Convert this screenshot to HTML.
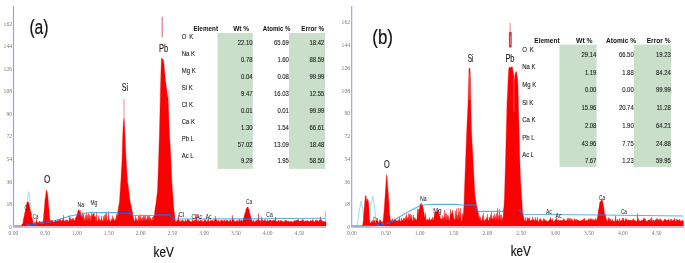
<!DOCTYPE html>
<html><head><meta charset="utf-8"><style>
html,body{margin:0;padding:0;background:#fff;}
svg{display:block;filter:blur(0.5px);}
.tk{font-family:"Liberation Serif",serif;font-size:5.6px;fill:#777;}
.th{font-family:"Liberation Sans",sans-serif;font-weight:bold;font-size:7.9px;fill:#111;}
.td{font-family:"Liberation Sans",sans-serif;font-size:6.8px;fill:#222;stroke:#222;stroke-width:0.1px;}
.tv{font-family:"Liberation Sans",sans-serif;font-size:7.4px;fill:#222;stroke:#222;stroke-width:0.12px;}
.pl{font-family:"Liberation Sans",sans-serif;fill:#111;}
.big{font-family:"Liberation Sans",sans-serif;fill:#1e1e1e;stroke:#1e1e1e;stroke-width:0.15px;}
.pan{font-family:"Liberation Sans",sans-serif;fill:#111;stroke:#111;stroke-width:0.2px;}
</style></head><body>
<svg width="685" height="263" viewBox="0 0 685 263">
<rect width="685" height="263" fill="#fff"/>
<defs>
<clipPath id="ca"><path d="M14.5,226.0 L14.5,226.0 L15.0,226.0 L15.5,226.0 L16.0,226.0 L16.5,226.0 L17.0,226.0 L17.5,226.0 L18.0,226.0 L18.5,226.0 L19.0,226.0 L19.5,226.0 L20.0,226.0 L20.5,226.0 L21.0,226.0 L21.5,226.0 L22.0,224.0 L22.5,223.9 L23.0,223.1 L23.5,218.7 L24.0,217.1 L24.5,214.3 L25.0,211.9 L25.5,210.6 L26.0,207.8 L26.5,204.7 L27.0,202.9 L27.5,201.9 L28.0,201.6 L28.5,202.0 L29.0,203.5 L29.5,206.0 L30.0,208.3 L30.5,211.1 L31.0,212.6 L31.5,215.4 L32.0,217.9 L32.5,218.7 L33.0,221.7 L33.5,223.5 L34.0,223.5 L34.5,223.1 L35.0,222.1 L35.5,223.2 L36.0,221.7 L36.5,218.9 L37.0,221.3 L37.5,222.5 L38.0,222.7 L38.5,222.4 L39.0,222.3 L39.5,220.8 L40.0,222.6 L40.5,222.1 L41.0,221.6 L41.5,222.8 L42.0,221.5 L42.5,221.9 L43.0,222.4 L43.5,217.9 L44.0,211.6 L44.5,206.5 L45.0,199.8 L45.5,196.9 L46.0,192.2 L46.5,190.0 L47.0,191.2 L47.5,193.7 L48.0,197.9 L48.5,204.7 L49.0,209.2 L49.5,215.8 L50.0,220.9 L50.5,220.6 L51.0,220.6 L51.5,220.2 L52.0,220.7 L52.5,220.1 L53.0,222.1 L53.5,222.1 L54.0,222.1 L54.5,221.9 L55.0,221.0 L55.5,219.8 L56.0,220.9 L56.5,221.3 L57.0,222.1 L57.5,219.4 L58.0,221.3 L58.5,220.6 L59.0,220.7 L59.5,219.3 L60.0,220.8 L60.5,218.7 L61.0,220.6 L61.5,221.3 L62.0,221.2 L62.5,219.2 L63.0,221.4 L63.5,215.1 L64.0,221.1 L64.5,221.3 L65.0,220.9 L65.5,220.0 L66.0,221.8 L66.5,219.5 L67.0,220.8 L67.5,219.9 L68.0,221.6 L68.5,221.7 L69.0,220.3 L69.5,215.4 L70.0,221.8 L70.5,217.4 L71.0,220.7 L71.5,219.0 L72.0,220.6 L72.5,217.9 L73.0,220.7 L73.5,218.3 L74.0,221.0 L74.5,219.9 L75.0,220.5 L75.5,217.7 L76.0,217.4 L76.5,216.3 L77.0,213.9 L77.5,213.5 L78.0,210.8 L78.5,209.4 L79.0,211.4 L79.5,210.8 L80.0,209.8 L80.5,211.9 L81.0,213.9 L81.5,216.5 L82.0,216.7 L82.5,212.7 L83.0,219.4 L83.5,212.5 L84.0,220.9 L84.5,218.2 L85.0,222.2 L85.5,215.2 L86.0,220.8 L86.5,212.1 L87.0,222.2 L87.5,215.3 L88.0,222.0 L88.5,213.0 L89.0,221.4 L89.5,214.3 L90.0,222.1 L90.5,215.8 L91.0,221.8 L91.5,212.5 L92.0,217.5 L92.5,214.6 L93.0,214.4 L93.5,213.8 L94.0,212.9 L94.5,216.5 L95.0,217.2 L95.5,216.2 L96.0,222.0 L96.5,212.4 L97.0,222.2 L97.5,220.9 L98.0,221.8 L98.5,215.5 L99.0,221.3 L99.5,218.2 L100.0,220.8 L100.5,220.0 L101.0,221.4 L101.5,215.8 L102.0,221.6 L102.5,220.1 L103.0,222.2 L103.5,215.9 L104.0,222.0 L104.5,214.9 L105.0,221.5 L105.5,213.7 L106.0,221.8 L106.5,211.7 L107.0,221.5 L107.5,220.1 L108.0,221.1 L108.5,211.5 L109.0,221.8 L109.5,218.7 L110.0,220.4 L110.5,222.0 L111.0,221.2 L111.5,218.9 L112.0,220.4 L112.5,215.4 L113.0,221.4 L113.5,217.7 L114.0,221.1 L114.5,219.9 L115.0,220.3 L115.5,218.3 L116.0,221.6 L116.5,213.8 L117.0,217.0 L117.5,214.5 L118.0,210.8 L118.5,207.1 L119.0,204.8 L119.5,201.2 L120.0,193.7 L120.5,185.8 L121.0,178.6 L121.5,168.7 L122.0,160.3 L122.5,142.9 L123.0,128.5 L123.5,120.6 L124.0,117.9 L124.5,123.6 L125.0,135.5 L125.5,145.9 L126.0,157.5 L126.5,165.3 L127.0,174.0 L127.5,181.4 L128.0,184.4 L128.5,188.3 L129.0,193.0 L129.5,196.5 L130.0,200.5 L130.5,203.5 L131.0,205.3 L131.5,207.7 L132.0,210.6 L132.5,212.1 L133.0,215.3 L133.5,217.9 L134.0,220.4 L134.5,221.3 L135.0,220.9 L135.5,216.0 L136.0,220.4 L136.5,218.4 L137.0,221.2 L137.5,220.4 L138.0,220.4 L138.5,215.4 L139.0,221.9 L139.5,214.9 L140.0,221.9 L140.5,214.2 L141.0,220.6 L141.5,218.3 L142.0,221.6 L142.5,217.3 L143.0,220.9 L143.5,215.0 L144.0,221.1 L144.5,216.2 L145.0,221.5 L145.5,214.5 L146.0,220.9 L146.5,218.6 L147.0,220.9 L147.5,214.9 L148.0,220.3 L148.5,216.1 L149.0,220.5 L149.5,214.9 L150.0,220.9 L150.5,217.4 L151.0,221.6 L151.5,219.1 L152.0,221.1 L152.5,217.0 L153.0,221.8 L153.5,215.4 L154.0,216.2 L154.5,214.1 L155.0,208.9 L155.5,206.0 L156.0,203.2 L156.5,198.5 L157.0,194.8 L157.5,190.5 L158.0,177.0 L158.5,163.2 L159.0,147.1 L159.5,130.5 L160.0,109.5 L160.5,87.9 L161.0,69.7 L161.5,57.9 L162.0,58.8 L162.5,59.1 L163.0,59.6 L163.5,59.9 L164.0,64.5 L164.5,69.7 L165.0,75.3 L165.5,80.7 L166.0,84.3 L166.5,87.9 L167.0,92.0 L167.5,94.9 L168.0,97.7 L168.5,107.6 L169.0,123.3 L169.5,134.4 L170.0,142.9 L170.5,152.4 L171.0,162.5 L171.5,173.0 L172.0,183.7 L172.5,191.4 L173.0,197.5 L173.5,204.2 L174.0,210.3 L174.5,213.9 L175.0,218.3 L175.5,221.3 L176.0,221.9 L176.5,220.6 L177.0,222.0 L177.5,219.7 L178.0,220.3 L178.5,215.0 L179.0,220.3 L179.5,221.6 L180.0,220.2 L180.5,221.9 L181.0,221.8 L181.5,220.1 L182.0,221.4 L182.5,219.9 L183.0,221.6 L183.5,220.5 L184.0,221.3 L184.5,221.5 L185.0,221.7 L185.5,219.4 L186.0,220.9 L186.5,221.4 L187.0,220.4 L187.5,219.1 L188.0,220.1 L188.5,219.4 L189.0,220.4 L189.5,220.7 L190.0,221.0 L190.5,221.4 L191.0,221.3 L191.5,221.9 L192.0,221.3 L192.5,219.4 L193.0,220.8 L193.5,221.7 L194.0,220.6 L194.5,219.7 L195.0,221.3 L195.5,219.7 L196.0,220.8 L196.5,214.3 L197.0,221.7 L197.5,220.2 L198.0,221.9 L198.5,220.0 L199.0,220.4 L199.5,221.2 L200.0,221.6 L200.5,220.0 L201.0,220.3 L201.5,221.0 L202.0,220.1 L202.5,221.5 L203.0,221.6 L203.5,221.8 L204.0,221.4 L204.5,219.2 L205.0,220.9 L205.5,219.6 L206.0,221.4 L206.5,221.3 L207.0,221.9 L207.5,220.1 L208.0,220.9 L208.5,219.0 L209.0,221.7 L209.5,221.5 L210.0,220.9 L210.5,220.4 L211.0,221.6 L211.5,220.0 L212.0,220.7 L212.5,220.6 L213.0,220.4 L213.5,221.1 L214.0,221.7 L214.5,219.3 L215.0,220.1 L215.5,216.1 L216.0,220.6 L216.5,219.4 L217.0,220.7 L217.5,221.7 L218.0,220.7 L218.5,219.9 L219.0,221.5 L219.5,221.4 L220.0,221.9 L220.5,220.6 L221.0,220.6 L221.5,220.0 L222.0,221.2 L222.5,220.8 L223.0,220.2 L223.5,221.1 L224.0,221.5 L224.5,219.8 L225.0,220.5 L225.5,221.9 L226.0,220.5 L226.5,220.0 L227.0,220.6 L227.5,220.2 L228.0,220.8 L228.5,221.4 L229.0,221.5 L229.5,220.7 L230.0,220.1 L230.5,219.7 L231.0,221.4 L231.5,221.4 L232.0,221.4 L232.5,215.1 L233.0,220.3 L233.5,219.6 L234.0,220.1 L234.5,221.8 L235.0,221.1 L235.5,221.4 L236.0,221.9 L236.5,220.3 L237.0,220.9 L237.5,221.2 L238.0,220.2 L238.5,221.9 L239.0,220.1 L239.5,218.9 L240.0,221.5 L240.5,221.1 L241.0,220.4 L241.5,219.7 L242.0,220.5 L242.5,221.9 L243.0,220.3 L243.5,218.7 L244.0,216.8 L244.5,215.0 L245.0,212.5 L245.5,212.4 L246.0,209.2 L246.5,208.2 L247.0,207.5 L247.5,207.0 L248.0,206.8 L248.5,209.0 L249.0,209.4 L249.5,211.6 L250.0,214.3 L250.5,215.5 L251.0,217.7 L251.5,219.4 L252.0,220.7 L252.5,221.3 L253.0,222.0 L253.5,219.9 L254.0,221.9 L254.5,222.0 L255.0,221.8 L255.5,220.7 L256.0,221.9 L256.5,219.6 L257.0,221.7 L257.5,219.7 L258.0,221.7 L258.5,213.3 L259.0,220.3 L259.5,220.2 L260.0,220.9 L260.5,220.6 L261.0,221.9 L261.5,216.8 L262.0,221.6 L262.5,219.6 L263.0,220.4 L263.5,220.8 L264.0,220.7 L264.5,219.5 L265.0,221.4 L265.5,219.4 L266.0,222.0 L266.5,221.1 L267.0,221.2 L267.5,219.6 L268.0,220.9 L268.5,220.8 L269.0,221.4 L269.5,220.0 L270.0,220.1 L270.5,219.9 L271.0,220.4 L271.5,221.1 L272.0,220.5 L272.5,220.6 L273.0,220.8 L273.5,220.0 L274.0,220.3 L274.5,221.1 L275.0,220.2 L275.5,217.0 L276.0,220.8 L276.5,221.8 L277.0,221.2 L277.5,220.9 L278.0,221.4 L278.5,220.0 L279.0,220.9 L279.5,221.5 L280.0,221.6 L280.5,220.0 L281.0,221.6 L281.5,220.7 L282.0,220.4 L282.5,222.0 L283.0,221.7 L283.5,221.8 L284.0,221.4 L284.5,221.9 L285.0,220.2 L285.5,220.5 L286.0,220.6 L286.5,220.2 L287.0,220.8 L287.5,221.4 L288.0,221.9 L288.5,220.7 L289.0,221.8 L289.5,221.5 L290.0,221.9 L290.5,221.1 L291.0,221.7 L291.5,221.3 L292.0,221.7 L292.5,222.0 L293.0,221.8 L293.5,221.2 L294.0,221.8 L294.5,221.0 L295.0,220.1 L295.5,221.6 L296.0,220.1 L296.5,220.5 L297.0,220.7 L297.5,219.4 L298.0,220.5 L298.5,219.5 L299.0,221.4 L299.5,221.2 L300.0,221.1 L300.5,221.0 L301.0,221.3 L301.5,220.6 L302.0,220.7 L302.5,219.0 L303.0,221.5 L303.5,219.7 L304.0,221.4 L304.5,221.2 L305.0,221.7 L305.5,220.8 L306.0,220.7 L306.5,221.9 L307.0,220.1 L307.5,221.1 L308.0,220.7 L308.5,221.1 L309.0,221.7 L309.5,221.0 L310.0,221.5 L310.5,220.2 L311.0,220.8 L311.5,221.1 L312.0,220.9 L312.5,219.3 L313.0,221.2 L313.5,220.4 L314.0,222.0 L314.5,222.0 L315.0,221.8 L315.5,220.1 L316.0,221.5 L316.5,219.7 L317.0,220.8 L317.5,220.4 L318.0,220.5 L318.5,222.0 L319.0,220.4 L319.5,220.0 L320.0,220.4 L320.5,216.6 L321.0,221.6 L321.5,219.6 L322.0,220.3 L322.5,221.6 L323.0,221.6 L323.5,221.2 L324.0,221.5 L324.5,221.8 L325.0,221.5 L325.5,220.8 L326.0,221.4 L326.0,226.0 Z"/></clipPath>
<clipPath id="cb"><path d="M352.5,226.0 L352.5,226.0 L353.0,226.0 L353.5,226.0 L354.0,226.0 L354.5,226.0 L355.0,226.0 L355.5,226.0 L356.0,226.0 L356.5,226.0 L357.0,226.0 L357.5,226.0 L358.0,226.0 L358.5,226.0 L359.0,226.0 L359.5,226.0 L360.0,226.0 L360.5,226.0 L361.0,226.0 L361.5,226.0 L362.0,226.0 L362.5,226.0 L363.0,223.1 L363.5,218.4 L364.0,210.9 L364.5,205.2 L365.0,198.7 L365.5,195.6 L366.0,195.5 L366.5,200.0 L367.0,201.6 L367.5,198.8 L368.0,199.6 L368.5,202.2 L369.0,207.8 L369.5,219.0 L370.0,222.7 L370.5,223.4 L371.0,222.3 L371.5,221.4 L372.0,222.5 L372.5,220.3 L373.0,222.7 L373.5,221.4 L374.0,222.8 L374.5,219.9 L375.0,222.7 L375.5,222.7 L376.0,223.1 L376.5,220.1 L377.0,222.6 L377.5,221.4 L378.0,221.1 L378.5,222.8 L379.0,222.9 L379.5,219.5 L380.0,221.4 L380.5,219.9 L381.0,221.2 L381.5,221.7 L382.0,221.9 L382.5,222.6 L383.0,221.4 L383.5,216.8 L384.0,211.7 L384.5,204.4 L385.0,197.2 L385.5,190.1 L386.0,181.9 L386.5,174.7 L387.0,176.2 L387.5,184.4 L388.0,190.3 L388.5,196.2 L389.0,203.3 L389.5,213.0 L390.0,217.3 L390.5,220.1 L391.0,220.8 L391.5,220.3 L392.0,220.5 L392.5,218.5 L393.0,221.3 L393.5,221.3 L394.0,219.9 L394.5,218.9 L395.0,220.5 L395.5,219.2 L396.0,219.9 L396.5,220.9 L397.0,221.1 L397.5,221.6 L398.0,219.6 L398.5,220.8 L399.0,221.3 L399.5,217.2 L400.0,220.4 L400.5,221.2 L401.0,221.3 L401.5,217.9 L402.0,221.1 L402.5,220.0 L403.0,220.0 L403.5,217.9 L404.0,221.4 L404.5,217.9 L405.0,220.7 L405.5,216.5 L406.0,221.1 L406.5,214.1 L407.0,219.8 L407.5,217.2 L408.0,221.3 L408.5,213.6 L409.0,220.8 L409.5,213.7 L410.0,219.8 L410.5,214.1 L411.0,220.1 L411.5,215.0 L412.0,220.1 L412.5,220.9 L413.0,219.5 L413.5,215.0 L414.0,221.5 L414.5,217.2 L415.0,220.2 L415.5,218.2 L416.0,220.0 L416.5,220.2 L417.0,218.6 L417.5,208.7 L418.0,215.9 L418.5,209.6 L419.0,209.8 L419.5,208.6 L420.0,205.5 L420.5,203.8 L421.0,203.4 L421.5,203.3 L422.0,205.2 L422.5,205.0 L423.0,207.4 L423.5,209.5 L424.0,212.8 L424.5,215.4 L425.0,218.0 L425.5,212.8 L426.0,220.2 L426.5,220.0 L427.0,220.0 L427.5,218.8 L428.0,220.8 L428.5,219.6 L429.0,219.9 L429.5,217.4 L430.0,221.3 L430.5,219.5 L431.0,220.5 L431.5,218.7 L432.0,220.9 L432.5,217.0 L433.0,219.7 L433.5,218.9 L434.0,217.6 L434.5,212.5 L435.0,214.0 L435.5,212.6 L436.0,211.7 L436.5,211.7 L437.0,212.6 L437.5,211.8 L438.0,212.1 L438.5,209.4 L439.0,214.6 L439.5,215.2 L440.0,216.8 L440.5,218.6 L441.0,219.1 L441.5,218.7 L442.0,220.9 L442.5,215.1 L443.0,219.5 L443.5,217.1 L444.0,221.4 L444.5,210.1 L445.0,220.0 L445.5,213.4 L446.0,220.9 L446.5,213.5 L447.0,220.7 L447.5,215.0 L448.0,220.2 L448.5,215.4 L449.0,221.4 L449.5,219.7 L450.0,218.1 L450.5,209.2 L451.0,214.2 L451.5,213.6 L452.0,212.6 L452.5,210.1 L453.0,214.7 L453.5,215.0 L454.0,219.0 L454.5,218.8 L455.0,220.8 L455.5,210.7 L456.0,221.0 L456.5,208.6 L457.0,219.6 L457.5,214.7 L458.0,220.5 L458.5,208.1 L459.0,220.2 L459.5,211.4 L460.0,220.1 L460.5,208.0 L461.0,219.9 L461.5,221.1 L462.0,221.0 L462.5,213.0 L463.0,217.3 L463.5,212.3 L464.0,204.7 L464.5,189.2 L465.0,175.7 L465.5,163.3 L466.0,150.4 L466.5,137.1 L467.0,124.4 L467.5,114.6 L468.0,103.9 L468.5,88.8 L469.0,68.3 L469.5,68.1 L470.0,68.9 L470.5,80.0 L471.0,115.1 L471.5,131.2 L472.0,141.6 L472.5,150.1 L473.0,159.7 L473.5,168.3 L474.0,178.5 L474.5,188.1 L475.0,195.5 L475.5,199.1 L476.0,201.5 L476.5,205.2 L477.0,207.2 L477.5,209.0 L478.0,211.7 L478.5,213.1 L479.0,219.6 L479.5,215.7 L480.0,220.2 L480.5,216.9 L481.0,221.2 L481.5,220.5 L482.0,220.3 L482.5,215.4 L483.0,221.4 L483.5,212.9 L484.0,221.5 L484.5,220.9 L485.0,220.1 L485.5,219.2 L486.0,220.8 L486.5,217.6 L487.0,220.1 L487.5,213.9 L488.0,219.9 L488.5,221.3 L489.0,219.8 L489.5,217.0 L490.0,220.3 L490.5,214.7 L491.0,219.8 L491.5,211.9 L492.0,220.2 L492.5,217.8 L493.0,219.6 L493.5,215.5 L494.0,219.7 L494.5,213.5 L495.0,221.4 L495.5,215.5 L496.0,221.0 L496.5,213.4 L497.0,220.7 L497.5,208.1 L498.0,221.0 L498.5,215.7 L499.0,221.1 L499.5,208.9 L500.0,219.8 L500.5,214.8 L501.0,221.4 L501.5,214.7 L502.0,221.1 L502.5,217.5 L503.0,220.0 L503.5,210.0 L504.0,205.9 L504.5,196.3 L505.0,178.5 L505.5,161.4 L506.0,143.6 L506.5,122.7 L507.0,102.8 L507.5,93.2 L508.0,82.0 L508.5,71.9 L509.0,67.4 L509.5,67.1 L510.0,67.9 L510.5,67.8 L511.0,66.5 L511.5,67.6 L512.0,66.9 L512.5,67.1 L513.0,71.4 L513.5,73.5 L514.0,77.4 L514.5,80.3 L515.0,75.8 L515.5,72.3 L516.0,73.0 L516.5,72.2 L517.0,75.2 L517.5,77.8 L518.0,85.7 L518.5,111.9 L519.0,127.4 L519.5,144.5 L520.0,166.4 L520.5,179.4 L521.0,186.9 L521.5,194.5 L522.0,202.4 L522.5,211.8 L523.0,213.5 L523.5,216.4 L524.0,219.4 L524.5,220.4 L525.0,221.2 L525.5,217.2 L526.0,220.9 L526.5,221.4 L527.0,219.9 L527.5,217.2 L528.0,219.8 L528.5,218.1 L529.0,220.9 L529.5,217.4 L530.0,220.2 L530.5,221.3 L531.0,219.9 L531.5,221.1 L532.0,219.8 L532.5,216.7 L533.0,221.2 L533.5,219.1 L534.0,220.5 L534.5,220.4 L535.0,221.0 L535.5,217.2 L536.0,220.9 L536.5,220.2 L537.0,220.9 L537.5,217.3 L538.0,221.2 L538.5,221.8 L539.0,221.8 L539.5,218.9 L540.0,220.3 L540.5,218.3 L541.0,220.4 L541.5,221.4 L542.0,220.1 L542.5,221.6 L543.0,221.5 L543.5,218.3 L544.0,221.3 L544.5,218.9 L545.0,220.6 L545.5,220.7 L546.0,219.9 L546.5,221.2 L547.0,220.9 L547.5,221.6 L548.0,221.4 L548.5,221.0 L549.0,220.6 L549.5,219.2 L550.0,219.9 L550.5,217.3 L551.0,220.1 L551.5,220.2 L552.0,220.0 L552.5,218.5 L553.0,221.0 L553.5,221.7 L554.0,221.3 L554.5,221.0 L555.0,220.1 L555.5,219.4 L556.0,220.2 L556.5,217.4 L557.0,220.1 L557.5,220.1 L558.0,221.0 L558.5,219.8 L559.0,221.2 L559.5,220.2 L560.0,221.3 L560.5,220.6 L561.0,220.1 L561.5,221.2 L562.0,220.0 L562.5,220.6 L563.0,221.1 L563.5,218.4 L564.0,220.1 L564.5,219.3 L565.0,221.0 L565.5,220.4 L566.0,220.9 L566.5,220.0 L567.0,220.7 L567.5,217.9 L568.0,221.4 L568.5,217.9 L569.0,221.3 L569.5,218.5 L570.0,221.3 L570.5,218.1 L571.0,221.3 L571.5,218.8 L572.0,220.8 L572.5,219.6 L573.0,221.6 L573.5,221.0 L574.0,220.2 L574.5,218.6 L575.0,221.5 L575.5,219.2 L576.0,220.9 L576.5,219.4 L577.0,220.5 L577.5,219.5 L578.0,221.5 L578.5,219.8 L579.0,221.0 L579.5,221.1 L580.0,220.7 L580.5,220.4 L581.0,220.7 L581.5,220.7 L582.0,220.0 L582.5,220.1 L583.0,220.2 L583.5,218.8 L584.0,221.6 L584.5,218.0 L585.0,220.1 L585.5,220.8 L586.0,220.7 L586.5,220.3 L587.0,220.4 L587.5,219.7 L588.0,221.5 L588.5,218.6 L589.0,220.9 L589.5,218.6 L590.0,220.4 L590.5,218.4 L591.0,220.2 L591.5,218.7 L592.0,220.2 L592.5,218.9 L593.0,221.4 L593.5,219.2 L594.0,220.1 L594.5,219.7 L595.0,220.7 L595.5,218.3 L596.0,220.5 L596.5,219.9 L597.0,219.2 L597.5,216.8 L598.0,214.8 L598.5,209.8 L599.0,208.1 L599.5,203.9 L600.0,201.5 L600.5,201.5 L601.0,201.1 L601.5,200.2 L602.0,199.3 L602.5,200.6 L603.0,203.0 L603.5,205.7 L604.0,208.9 L604.5,213.6 L605.0,214.3 L605.5,214.7 L606.0,220.0 L606.5,218.6 L607.0,221.5 L607.5,220.6 L608.0,220.3 L608.5,217.6 L609.0,220.4 L609.5,218.1 L610.0,221.7 L610.5,218.7 L611.0,220.0 L611.5,220.9 L612.0,220.8 L612.5,219.2 L613.0,221.3 L613.5,220.6 L614.0,221.7 L614.5,221.7 L615.0,220.2 L615.5,215.6 L616.0,221.1 L616.5,220.8 L617.0,220.8 L617.5,219.0 L618.0,221.4 L618.5,221.0 L619.0,220.6 L619.5,218.5 L620.0,221.0 L620.5,221.4 L621.0,220.2 L621.5,220.7 L622.0,220.5 L622.5,217.9 L623.0,220.4 L623.5,217.8 L624.0,220.3 L624.5,220.8 L625.0,221.7 L625.5,218.4 L626.0,220.0 L626.5,218.7 L627.0,219.9 L627.5,220.5 L628.0,220.5 L628.5,219.7 L629.0,220.0 L629.5,220.5 L630.0,220.4 L630.5,220.0 L631.0,220.6 L631.5,220.3 L632.0,221.0 L632.5,219.4 L633.0,221.1 L633.5,218.4 L634.0,220.8 L634.5,220.0 L635.0,221.4 L635.5,220.4 L636.0,220.9 L636.5,221.5 L637.0,220.8 L637.5,213.5 L638.0,221.7 L638.5,218.6 L639.0,221.0 L639.5,220.4 L640.0,221.2 L640.5,221.0 L641.0,220.5 L641.5,220.5 L642.0,220.2 L642.5,220.4 L643.0,220.6 L643.5,217.9 L644.0,220.5 L644.5,217.8 L645.0,220.6 L645.5,219.1 L646.0,221.3 L646.5,221.0 L647.0,221.0 L647.5,221.4 L648.0,220.1 L648.5,220.1 L649.0,219.9 L649.5,219.5 L650.0,221.4 L650.5,218.7 L651.0,221.8 L651.5,217.1 L652.0,219.9 L652.5,221.6 L653.0,220.1 L653.5,220.3 L654.0,220.6 L654.5,221.3 L655.0,220.2 L655.5,219.7 L656.0,220.6 L656.5,218.6 L657.0,220.0 L657.5,218.4 L658.0,221.3 L658.5,219.5 L659.0,220.9 L659.5,218.9 L660.0,220.5 L660.5,218.4 L661.0,221.4 L661.5,219.7 L662.0,220.4 L662.5,221.4 L663.0,221.3 L663.5,220.8 L664.0,220.4 L664.5,218.8 L665.0,220.2 L665.5,219.0 L666.0,221.0 L666.5,220.3 L667.0,219.8 L667.5,220.6 L668.0,220.5 L668.5,218.8 L669.0,220.3 L669.5,220.7 L670.0,221.8 L670.5,219.1 L671.0,221.6 L671.5,218.9 L672.0,220.4 L672.5,221.1 L673.0,219.9 L673.5,220.7 L674.0,220.5 L674.5,217.9 L675.0,220.0 L675.5,221.7 L676.0,221.7 L676.5,218.9 L677.0,220.0 L677.5,219.8 L678.0,220.0 L678.5,220.6 L679.0,220.5 L679.5,219.1 L680.0,220.9 L680.5,221.2 L681.0,220.4 L681.5,221.4 L682.0,221.3 L682.5,219.8 L683.0,220.5 L683.5,221.6 L683.5,226.0 Z"/></clipPath>
</defs>
<!-- Panel A -->
<g>
<line x1="13.5" y1="6" x2="13.5" y2="227.5" stroke="#9c9ce0" stroke-width="1.1"/>
<line x1="13" y1="227.4" x2="326.5" y2="227.4" stroke="#c6baf0" stroke-width="1.2"/>
<text x="12.0" y="25.5" text-anchor="end" class="tk">162</text>
<text x="12.0" y="48.0" text-anchor="end" class="tk">144</text>
<text x="12.0" y="70.6" text-anchor="end" class="tk">126</text>
<text x="12.0" y="93.2" text-anchor="end" class="tk">108</text>
<text x="12.0" y="115.7" text-anchor="end" class="tk">90</text>
<text x="12.0" y="138.3" text-anchor="end" class="tk">72</text>
<text x="12.0" y="160.9" text-anchor="end" class="tk">54</text>
<text x="12.0" y="183.5" text-anchor="end" class="tk">36</text>
<text x="12.0" y="206.0" text-anchor="end" class="tk">18</text>
<text x="12.0" y="228.6" text-anchor="end" class="tk">0</text>
<text x="13.4" y="235.0" text-anchor="middle" class="tk">0.00</text>
<text x="45.2" y="235.0" text-anchor="middle" class="tk">0.50</text>
<text x="77.0" y="235.0" text-anchor="middle" class="tk">1.00</text>
<text x="108.8" y="235.0" text-anchor="middle" class="tk">1.50</text>
<text x="140.6" y="235.0" text-anchor="middle" class="tk">2.00</text>
<text x="172.3" y="235.0" text-anchor="middle" class="tk">2.50</text>
<text x="204.1" y="235.0" text-anchor="middle" class="tk">3.00</text>
<text x="235.9" y="235.0" text-anchor="middle" class="tk">3.50</text>
<text x="267.7" y="235.0" text-anchor="middle" class="tk">4.00</text>
<text x="299.5" y="235.0" text-anchor="middle" class="tk">4.50</text>
<polyline points="26.0,212.0 27.3,200.0 28.7,191.7 29.6,198.0 30.6,208.0 31.5,215.0" fill="none" stroke="#8fe6ee" stroke-width="1"/><polyline points="167.6,106.0 168.3,96.0 168.8,90.0 169.4,97.0 169.6,106.0" fill="none" stroke="#8fe6ee" stroke-width="1"/>
<path d="M14.5,226.0 L14.5,226.0 L15.0,226.0 L15.5,226.0 L16.0,226.0 L16.5,226.0 L17.0,226.0 L17.5,226.0 L18.0,226.0 L18.5,226.0 L19.0,226.0 L19.5,226.0 L20.0,226.0 L20.5,226.0 L21.0,226.0 L21.5,226.0 L22.0,224.0 L22.5,223.9 L23.0,223.1 L23.5,218.7 L24.0,217.1 L24.5,214.3 L25.0,211.9 L25.5,210.6 L26.0,207.8 L26.5,204.7 L27.0,202.9 L27.5,201.9 L28.0,201.6 L28.5,202.0 L29.0,203.5 L29.5,206.0 L30.0,208.3 L30.5,211.1 L31.0,212.6 L31.5,215.4 L32.0,217.9 L32.5,218.7 L33.0,221.7 L33.5,223.5 L34.0,223.5 L34.5,223.1 L35.0,222.1 L35.5,223.2 L36.0,221.7 L36.5,218.9 L37.0,221.3 L37.5,222.5 L38.0,222.7 L38.5,222.4 L39.0,222.3 L39.5,220.8 L40.0,222.6 L40.5,222.1 L41.0,221.6 L41.5,222.8 L42.0,221.5 L42.5,221.9 L43.0,222.4 L43.5,217.9 L44.0,211.6 L44.5,206.5 L45.0,199.8 L45.5,196.9 L46.0,192.2 L46.5,190.0 L47.0,191.2 L47.5,193.7 L48.0,197.9 L48.5,204.7 L49.0,209.2 L49.5,215.8 L50.0,220.9 L50.5,220.6 L51.0,220.6 L51.5,220.2 L52.0,220.7 L52.5,220.1 L53.0,222.1 L53.5,222.1 L54.0,222.1 L54.5,221.9 L55.0,221.0 L55.5,219.8 L56.0,220.9 L56.5,221.3 L57.0,222.1 L57.5,219.4 L58.0,221.3 L58.5,220.6 L59.0,220.7 L59.5,219.3 L60.0,220.8 L60.5,218.7 L61.0,220.6 L61.5,221.3 L62.0,221.2 L62.5,219.2 L63.0,221.4 L63.5,215.1 L64.0,221.1 L64.5,221.3 L65.0,220.9 L65.5,220.0 L66.0,221.8 L66.5,219.5 L67.0,220.8 L67.5,219.9 L68.0,221.6 L68.5,221.7 L69.0,220.3 L69.5,215.4 L70.0,221.8 L70.5,217.4 L71.0,220.7 L71.5,219.0 L72.0,220.6 L72.5,217.9 L73.0,220.7 L73.5,218.3 L74.0,221.0 L74.5,219.9 L75.0,220.5 L75.5,217.7 L76.0,217.4 L76.5,216.3 L77.0,213.9 L77.5,213.5 L78.0,210.8 L78.5,209.4 L79.0,211.4 L79.5,210.8 L80.0,209.8 L80.5,211.9 L81.0,213.9 L81.5,216.5 L82.0,216.7 L82.5,212.7 L83.0,219.4 L83.5,212.5 L84.0,220.9 L84.5,218.2 L85.0,222.2 L85.5,215.2 L86.0,220.8 L86.5,212.1 L87.0,222.2 L87.5,215.3 L88.0,222.0 L88.5,213.0 L89.0,221.4 L89.5,214.3 L90.0,222.1 L90.5,215.8 L91.0,221.8 L91.5,212.5 L92.0,217.5 L92.5,214.6 L93.0,214.4 L93.5,213.8 L94.0,212.9 L94.5,216.5 L95.0,217.2 L95.5,216.2 L96.0,222.0 L96.5,212.4 L97.0,222.2 L97.5,220.9 L98.0,221.8 L98.5,215.5 L99.0,221.3 L99.5,218.2 L100.0,220.8 L100.5,220.0 L101.0,221.4 L101.5,215.8 L102.0,221.6 L102.5,220.1 L103.0,222.2 L103.5,215.9 L104.0,222.0 L104.5,214.9 L105.0,221.5 L105.5,213.7 L106.0,221.8 L106.5,211.7 L107.0,221.5 L107.5,220.1 L108.0,221.1 L108.5,211.5 L109.0,221.8 L109.5,218.7 L110.0,220.4 L110.5,222.0 L111.0,221.2 L111.5,218.9 L112.0,220.4 L112.5,215.4 L113.0,221.4 L113.5,217.7 L114.0,221.1 L114.5,219.9 L115.0,220.3 L115.5,218.3 L116.0,221.6 L116.5,213.8 L117.0,217.0 L117.5,214.5 L118.0,210.8 L118.5,207.1 L119.0,204.8 L119.5,201.2 L120.0,193.7 L120.5,185.8 L121.0,178.6 L121.5,168.7 L122.0,160.3 L122.5,142.9 L123.0,128.5 L123.5,120.6 L124.0,117.9 L124.5,123.6 L125.0,135.5 L125.5,145.9 L126.0,157.5 L126.5,165.3 L127.0,174.0 L127.5,181.4 L128.0,184.4 L128.5,188.3 L129.0,193.0 L129.5,196.5 L130.0,200.5 L130.5,203.5 L131.0,205.3 L131.5,207.7 L132.0,210.6 L132.5,212.1 L133.0,215.3 L133.5,217.9 L134.0,220.4 L134.5,221.3 L135.0,220.9 L135.5,216.0 L136.0,220.4 L136.5,218.4 L137.0,221.2 L137.5,220.4 L138.0,220.4 L138.5,215.4 L139.0,221.9 L139.5,214.9 L140.0,221.9 L140.5,214.2 L141.0,220.6 L141.5,218.3 L142.0,221.6 L142.5,217.3 L143.0,220.9 L143.5,215.0 L144.0,221.1 L144.5,216.2 L145.0,221.5 L145.5,214.5 L146.0,220.9 L146.5,218.6 L147.0,220.9 L147.5,214.9 L148.0,220.3 L148.5,216.1 L149.0,220.5 L149.5,214.9 L150.0,220.9 L150.5,217.4 L151.0,221.6 L151.5,219.1 L152.0,221.1 L152.5,217.0 L153.0,221.8 L153.5,215.4 L154.0,216.2 L154.5,214.1 L155.0,208.9 L155.5,206.0 L156.0,203.2 L156.5,198.5 L157.0,194.8 L157.5,190.5 L158.0,177.0 L158.5,163.2 L159.0,147.1 L159.5,130.5 L160.0,109.5 L160.5,87.9 L161.0,69.7 L161.5,57.9 L162.0,58.8 L162.5,59.1 L163.0,59.6 L163.5,59.9 L164.0,64.5 L164.5,69.7 L165.0,75.3 L165.5,80.7 L166.0,84.3 L166.5,87.9 L167.0,92.0 L167.5,94.9 L168.0,97.7 L168.5,107.6 L169.0,123.3 L169.5,134.4 L170.0,142.9 L170.5,152.4 L171.0,162.5 L171.5,173.0 L172.0,183.7 L172.5,191.4 L173.0,197.5 L173.5,204.2 L174.0,210.3 L174.5,213.9 L175.0,218.3 L175.5,221.3 L176.0,221.9 L176.5,220.6 L177.0,222.0 L177.5,219.7 L178.0,220.3 L178.5,215.0 L179.0,220.3 L179.5,221.6 L180.0,220.2 L180.5,221.9 L181.0,221.8 L181.5,220.1 L182.0,221.4 L182.5,219.9 L183.0,221.6 L183.5,220.5 L184.0,221.3 L184.5,221.5 L185.0,221.7 L185.5,219.4 L186.0,220.9 L186.5,221.4 L187.0,220.4 L187.5,219.1 L188.0,220.1 L188.5,219.4 L189.0,220.4 L189.5,220.7 L190.0,221.0 L190.5,221.4 L191.0,221.3 L191.5,221.9 L192.0,221.3 L192.5,219.4 L193.0,220.8 L193.5,221.7 L194.0,220.6 L194.5,219.7 L195.0,221.3 L195.5,219.7 L196.0,220.8 L196.5,214.3 L197.0,221.7 L197.5,220.2 L198.0,221.9 L198.5,220.0 L199.0,220.4 L199.5,221.2 L200.0,221.6 L200.5,220.0 L201.0,220.3 L201.5,221.0 L202.0,220.1 L202.5,221.5 L203.0,221.6 L203.5,221.8 L204.0,221.4 L204.5,219.2 L205.0,220.9 L205.5,219.6 L206.0,221.4 L206.5,221.3 L207.0,221.9 L207.5,220.1 L208.0,220.9 L208.5,219.0 L209.0,221.7 L209.5,221.5 L210.0,220.9 L210.5,220.4 L211.0,221.6 L211.5,220.0 L212.0,220.7 L212.5,220.6 L213.0,220.4 L213.5,221.1 L214.0,221.7 L214.5,219.3 L215.0,220.1 L215.5,216.1 L216.0,220.6 L216.5,219.4 L217.0,220.7 L217.5,221.7 L218.0,220.7 L218.5,219.9 L219.0,221.5 L219.5,221.4 L220.0,221.9 L220.5,220.6 L221.0,220.6 L221.5,220.0 L222.0,221.2 L222.5,220.8 L223.0,220.2 L223.5,221.1 L224.0,221.5 L224.5,219.8 L225.0,220.5 L225.5,221.9 L226.0,220.5 L226.5,220.0 L227.0,220.6 L227.5,220.2 L228.0,220.8 L228.5,221.4 L229.0,221.5 L229.5,220.7 L230.0,220.1 L230.5,219.7 L231.0,221.4 L231.5,221.4 L232.0,221.4 L232.5,215.1 L233.0,220.3 L233.5,219.6 L234.0,220.1 L234.5,221.8 L235.0,221.1 L235.5,221.4 L236.0,221.9 L236.5,220.3 L237.0,220.9 L237.5,221.2 L238.0,220.2 L238.5,221.9 L239.0,220.1 L239.5,218.9 L240.0,221.5 L240.5,221.1 L241.0,220.4 L241.5,219.7 L242.0,220.5 L242.5,221.9 L243.0,220.3 L243.5,218.7 L244.0,216.8 L244.5,215.0 L245.0,212.5 L245.5,212.4 L246.0,209.2 L246.5,208.2 L247.0,207.5 L247.5,207.0 L248.0,206.8 L248.5,209.0 L249.0,209.4 L249.5,211.6 L250.0,214.3 L250.5,215.5 L251.0,217.7 L251.5,219.4 L252.0,220.7 L252.5,221.3 L253.0,222.0 L253.5,219.9 L254.0,221.9 L254.5,222.0 L255.0,221.8 L255.5,220.7 L256.0,221.9 L256.5,219.6 L257.0,221.7 L257.5,219.7 L258.0,221.7 L258.5,213.3 L259.0,220.3 L259.5,220.2 L260.0,220.9 L260.5,220.6 L261.0,221.9 L261.5,216.8 L262.0,221.6 L262.5,219.6 L263.0,220.4 L263.5,220.8 L264.0,220.7 L264.5,219.5 L265.0,221.4 L265.5,219.4 L266.0,222.0 L266.5,221.1 L267.0,221.2 L267.5,219.6 L268.0,220.9 L268.5,220.8 L269.0,221.4 L269.5,220.0 L270.0,220.1 L270.5,219.9 L271.0,220.4 L271.5,221.1 L272.0,220.5 L272.5,220.6 L273.0,220.8 L273.5,220.0 L274.0,220.3 L274.5,221.1 L275.0,220.2 L275.5,217.0 L276.0,220.8 L276.5,221.8 L277.0,221.2 L277.5,220.9 L278.0,221.4 L278.5,220.0 L279.0,220.9 L279.5,221.5 L280.0,221.6 L280.5,220.0 L281.0,221.6 L281.5,220.7 L282.0,220.4 L282.5,222.0 L283.0,221.7 L283.5,221.8 L284.0,221.4 L284.5,221.9 L285.0,220.2 L285.5,220.5 L286.0,220.6 L286.5,220.2 L287.0,220.8 L287.5,221.4 L288.0,221.9 L288.5,220.7 L289.0,221.8 L289.5,221.5 L290.0,221.9 L290.5,221.1 L291.0,221.7 L291.5,221.3 L292.0,221.7 L292.5,222.0 L293.0,221.8 L293.5,221.2 L294.0,221.8 L294.5,221.0 L295.0,220.1 L295.5,221.6 L296.0,220.1 L296.5,220.5 L297.0,220.7 L297.5,219.4 L298.0,220.5 L298.5,219.5 L299.0,221.4 L299.5,221.2 L300.0,221.1 L300.5,221.0 L301.0,221.3 L301.5,220.6 L302.0,220.7 L302.5,219.0 L303.0,221.5 L303.5,219.7 L304.0,221.4 L304.5,221.2 L305.0,221.7 L305.5,220.8 L306.0,220.7 L306.5,221.9 L307.0,220.1 L307.5,221.1 L308.0,220.7 L308.5,221.1 L309.0,221.7 L309.5,221.0 L310.0,221.5 L310.5,220.2 L311.0,220.8 L311.5,221.1 L312.0,220.9 L312.5,219.3 L313.0,221.2 L313.5,220.4 L314.0,222.0 L314.5,222.0 L315.0,221.8 L315.5,220.1 L316.0,221.5 L316.5,219.7 L317.0,220.8 L317.5,220.4 L318.0,220.5 L318.5,222.0 L319.0,220.4 L319.5,220.0 L320.0,220.4 L320.5,216.6 L321.0,221.6 L321.5,219.6 L322.0,220.3 L322.5,221.6 L323.0,221.6 L323.5,221.2 L324.0,221.5 L324.5,221.8 L325.0,221.5 L325.5,220.8 L326.0,221.4 L326.0,226.0 Z" fill="#fa0000" stroke="#fa0000" stroke-width="0.35"/>
<line x1="162.2" y1="16.7" x2="162.2" y2="37.3" stroke="#e05a68" stroke-width="1.0"/>
<line x1="124.0" y1="99.0" x2="124.0" y2="119.0" stroke="#f28a96" stroke-width="1.0"/>
<line x1="325.4" y1="211.0" x2="325.4" y2="222.0" stroke="#f08890" stroke-width="0.8"/>
<polyline points="14.0,226.0 25.0,225.5 35.0,224.0 52.0,221.5 70.0,216.0 90.0,212.5 129.0,212.6 133.0,215.5 154.0,215.5 156.0,214.7 170.0,214.7 173.0,219.0 250.0,218.8 325.0,218.3" fill="none" stroke="#5ab2ec" stroke-width="1.15"/>
<polyline points="14.0,226.0 25.0,225.5 35.0,224.0 52.0,221.5 70.0,216.0 90.0,212.5 129.0,212.6 133.0,215.5 154.0,215.5 156.0,214.7 170.0,214.7 173.0,219.0 250.0,218.8 325.0,218.3" fill="none" stroke="#3a44b8" stroke-width="1.15" clip-path="url(#ca)"/>
<text x="24.6" y="209.8" class="pl" style="font-size:6.6px" textLength="4.0" lengthAdjust="spacingAndGlyphs">Cl</text>
<text x="33.0" y="219.2" class="pl" style="font-size:6.6px" textLength="5.2" lengthAdjust="spacingAndGlyphs">Ca</text>
<text x="44.1" y="183.1" class="big" style="font-size:10.3px" textLength="6.3" lengthAdjust="spacingAndGlyphs">O</text>
<text x="77.5" y="207.1" class="pl" style="font-size:6.6px" textLength="6.5" lengthAdjust="spacingAndGlyphs">Na</text>
<text x="90.4" y="204.5" class="pl" style="font-size:6.6px" textLength="6.8" lengthAdjust="spacingAndGlyphs">Mg</text>
<text x="121.7" y="90.9" class="big" style="font-size:10.3px" textLength="6.3" lengthAdjust="spacingAndGlyphs">Si</text>
<text x="159.1" y="52.0" class="big" style="font-size:10.3px" textLength="9.2" lengthAdjust="spacingAndGlyphs">Pb</text>
<text x="178.6" y="217.2" class="pl" style="font-size:6.6px" textLength="5.6" lengthAdjust="spacingAndGlyphs">Cl</text>
<text x="191.4" y="218.8" class="pl" style="font-size:6.6px" textLength="10.6" lengthAdjust="spacingAndGlyphs">ClAc</text>
<text x="205.7" y="218.8" class="pl" style="font-size:6.6px" textLength="5.6" lengthAdjust="spacingAndGlyphs">Ac</text>
<text x="246.0" y="203.6" class="pl" style="font-size:6.6px" textLength="6.0" lengthAdjust="spacingAndGlyphs">Ca</text>
<text x="266.3" y="217.1" class="pl" style="font-size:6.6px" textLength="6.4" lengthAdjust="spacingAndGlyphs">Ca</text>
<rect x="217.5" y="32.9" width="35.3" height="136.0" fill="#c9dfca"/>
<rect x="289.0" y="32.9" width="36.0" height="136.0" fill="#c9dfca"/>
<text x="193.4" y="31.2" class="th" textLength="24.6" lengthAdjust="spacingAndGlyphs">Element</text>
<text x="233.2" y="31.2" class="th" textLength="16.0" lengthAdjust="spacingAndGlyphs">Wt %</text>
<text x="262.8" y="31.2" class="th" textLength="27.7" lengthAdjust="spacingAndGlyphs">Atomic %</text>
<text x="301.2" y="31.2" class="th" textLength="23.0" lengthAdjust="spacingAndGlyphs">Error %</text>
<text x="181.7" y="39.1" class="td" textLength="11.64" lengthAdjust="spacingAndGlyphs">O&#8194;K</text>
<text x="252.6" y="45.2" class="tv" text-anchor="end" textLength="14.81" lengthAdjust="spacingAndGlyphs">22.10</text>
<text x="288.9" y="45.2" class="tv" text-anchor="end" textLength="14.81" lengthAdjust="spacingAndGlyphs">65.69</text>
<text x="324.4" y="45.2" class="tv" text-anchor="end" textLength="14.81" lengthAdjust="spacingAndGlyphs">18.42</text>
<text x="181.7" y="56.0" class="td" textLength="13.30" lengthAdjust="spacingAndGlyphs">Na K</text>
<text x="252.6" y="62.1" class="tv" text-anchor="end" textLength="11.52" lengthAdjust="spacingAndGlyphs">0.78</text>
<text x="288.9" y="62.1" class="tv" text-anchor="end" textLength="11.52" lengthAdjust="spacingAndGlyphs">1.60</text>
<text x="324.4" y="62.1" class="tv" text-anchor="end" textLength="14.81" lengthAdjust="spacingAndGlyphs">88.59</text>
<text x="181.7" y="73.0" class="td" textLength="13.97" lengthAdjust="spacingAndGlyphs">Mg K</text>
<text x="252.6" y="79.0" class="tv" text-anchor="end" textLength="11.52" lengthAdjust="spacingAndGlyphs">0.04</text>
<text x="288.9" y="79.0" class="tv" text-anchor="end" textLength="11.52" lengthAdjust="spacingAndGlyphs">0.08</text>
<text x="324.4" y="79.0" class="tv" text-anchor="end" textLength="14.81" lengthAdjust="spacingAndGlyphs">99.99</text>
<text x="181.7" y="89.9" class="td" textLength="10.98" lengthAdjust="spacingAndGlyphs">Si K</text>
<text x="252.6" y="95.9" class="tv" text-anchor="end" textLength="11.52" lengthAdjust="spacingAndGlyphs">9.47</text>
<text x="288.9" y="95.9" class="tv" text-anchor="end" textLength="14.81" lengthAdjust="spacingAndGlyphs">16.03</text>
<text x="324.4" y="95.9" class="tv" text-anchor="end" textLength="14.81" lengthAdjust="spacingAndGlyphs">12.55</text>
<text x="181.7" y="106.8" class="td" textLength="11.31" lengthAdjust="spacingAndGlyphs">Cl K</text>
<text x="252.6" y="112.8" class="tv" text-anchor="end" textLength="11.52" lengthAdjust="spacingAndGlyphs">0.01</text>
<text x="288.9" y="112.8" class="tv" text-anchor="end" textLength="11.52" lengthAdjust="spacingAndGlyphs">0.01</text>
<text x="324.4" y="112.8" class="tv" text-anchor="end" textLength="14.81" lengthAdjust="spacingAndGlyphs">99.99</text>
<text x="181.7" y="123.8" class="td" textLength="13.30" lengthAdjust="spacingAndGlyphs">Ca K</text>
<text x="252.6" y="129.7" class="tv" text-anchor="end" textLength="11.52" lengthAdjust="spacingAndGlyphs">1.30</text>
<text x="288.9" y="129.7" class="tv" text-anchor="end" textLength="11.52" lengthAdjust="spacingAndGlyphs">1.54</text>
<text x="324.4" y="129.7" class="tv" text-anchor="end" textLength="14.81" lengthAdjust="spacingAndGlyphs">66.61</text>
<text x="181.7" y="140.7" class="td" textLength="12.31" lengthAdjust="spacingAndGlyphs">Pb L</text>
<text x="252.6" y="146.5" class="tv" text-anchor="end" textLength="14.81" lengthAdjust="spacingAndGlyphs">57.02</text>
<text x="288.9" y="146.5" class="tv" text-anchor="end" textLength="14.81" lengthAdjust="spacingAndGlyphs">13.09</text>
<text x="324.4" y="146.5" class="tv" text-anchor="end" textLength="14.81" lengthAdjust="spacingAndGlyphs">18.48</text>
<text x="181.7" y="157.6" class="td" textLength="11.97" lengthAdjust="spacingAndGlyphs">Ac L</text>
<text x="252.6" y="163.4" class="tv" text-anchor="end" textLength="11.52" lengthAdjust="spacingAndGlyphs">9.29</text>
<text x="288.9" y="163.4" class="tv" text-anchor="end" textLength="11.52" lengthAdjust="spacingAndGlyphs">1.95</text>
<text x="324.4" y="163.4" class="tv" text-anchor="end" textLength="14.81" lengthAdjust="spacingAndGlyphs">58.50</text>
<text x="29.4" y="33.7" class="pan" style="font-size:20px" textLength="19.2" lengthAdjust="spacingAndGlyphs">(a)</text>
<text x="153.6" y="257" class="pan" style="font-size:14.6px" textLength="20.3" lengthAdjust="spacingAndGlyphs">keV</text>
</g>
<!-- Panel B -->
<g>
<line x1="351.7" y1="6" x2="351.7" y2="227.5" stroke="#9c9ce0" stroke-width="1.1"/>
<line x1="351" y1="227.4" x2="684" y2="227.4" stroke="#c6baf0" stroke-width="1.2"/>
<text x="350.0" y="24.3" text-anchor="end" class="tk">162</text>
<text x="350.0" y="47.0" text-anchor="end" class="tk">144</text>
<text x="350.0" y="69.8" text-anchor="end" class="tk">126</text>
<text x="350.0" y="92.6" text-anchor="end" class="tk">108</text>
<text x="350.0" y="115.3" text-anchor="end" class="tk">90</text>
<text x="350.0" y="138.1" text-anchor="end" class="tk">72</text>
<text x="350.0" y="160.9" text-anchor="end" class="tk">54</text>
<text x="350.0" y="183.7" text-anchor="end" class="tk">36</text>
<text x="350.0" y="206.4" text-anchor="end" class="tk">18</text>
<text x="350.0" y="229.2" text-anchor="end" class="tk">0</text>
<text x="352.0" y="235.2" text-anchor="middle" class="tk">0.00</text>
<text x="385.9" y="235.2" text-anchor="middle" class="tk">0.50</text>
<text x="419.7" y="235.2" text-anchor="middle" class="tk">1.00</text>
<text x="453.6" y="235.2" text-anchor="middle" class="tk">1.50</text>
<text x="487.4" y="235.2" text-anchor="middle" class="tk">2.00</text>
<text x="521.2" y="235.2" text-anchor="middle" class="tk">2.50</text>
<text x="555.1" y="235.2" text-anchor="middle" class="tk">3.00</text>
<text x="589.0" y="235.2" text-anchor="middle" class="tk">3.50</text>
<text x="622.8" y="235.2" text-anchor="middle" class="tk">4.00</text>
<text x="656.7" y="235.2" text-anchor="middle" class="tk">4.50</text>
<polyline points="357.0,226.0 359.0,212.0 361.2,201.3 363.0,210.0 364.5,226.0" fill="none" stroke="#8fe6ee" stroke-width="1"/><polyline points="369.0,226.0 371.0,206.0 372.7,196.0 374.5,206.0 376.5,226.0" fill="none" stroke="#8fe6ee" stroke-width="1"/>
<polyline points="514.0,110.0 515.9,71.0 518.0,100.0 519.0,130.0" fill="none" stroke="#8fe6ee" stroke-width="1"/>
<path d="M352.5,226.0 L352.5,226.0 L353.0,226.0 L353.5,226.0 L354.0,226.0 L354.5,226.0 L355.0,226.0 L355.5,226.0 L356.0,226.0 L356.5,226.0 L357.0,226.0 L357.5,226.0 L358.0,226.0 L358.5,226.0 L359.0,226.0 L359.5,226.0 L360.0,226.0 L360.5,226.0 L361.0,226.0 L361.5,226.0 L362.0,226.0 L362.5,226.0 L363.0,223.1 L363.5,218.4 L364.0,210.9 L364.5,205.2 L365.0,198.7 L365.5,195.6 L366.0,195.5 L366.5,200.0 L367.0,201.6 L367.5,198.8 L368.0,199.6 L368.5,202.2 L369.0,207.8 L369.5,219.0 L370.0,222.7 L370.5,223.4 L371.0,222.3 L371.5,221.4 L372.0,222.5 L372.5,220.3 L373.0,222.7 L373.5,221.4 L374.0,222.8 L374.5,219.9 L375.0,222.7 L375.5,222.7 L376.0,223.1 L376.5,220.1 L377.0,222.6 L377.5,221.4 L378.0,221.1 L378.5,222.8 L379.0,222.9 L379.5,219.5 L380.0,221.4 L380.5,219.9 L381.0,221.2 L381.5,221.7 L382.0,221.9 L382.5,222.6 L383.0,221.4 L383.5,216.8 L384.0,211.7 L384.5,204.4 L385.0,197.2 L385.5,190.1 L386.0,181.9 L386.5,174.7 L387.0,176.2 L387.5,184.4 L388.0,190.3 L388.5,196.2 L389.0,203.3 L389.5,213.0 L390.0,217.3 L390.5,220.1 L391.0,220.8 L391.5,220.3 L392.0,220.5 L392.5,218.5 L393.0,221.3 L393.5,221.3 L394.0,219.9 L394.5,218.9 L395.0,220.5 L395.5,219.2 L396.0,219.9 L396.5,220.9 L397.0,221.1 L397.5,221.6 L398.0,219.6 L398.5,220.8 L399.0,221.3 L399.5,217.2 L400.0,220.4 L400.5,221.2 L401.0,221.3 L401.5,217.9 L402.0,221.1 L402.5,220.0 L403.0,220.0 L403.5,217.9 L404.0,221.4 L404.5,217.9 L405.0,220.7 L405.5,216.5 L406.0,221.1 L406.5,214.1 L407.0,219.8 L407.5,217.2 L408.0,221.3 L408.5,213.6 L409.0,220.8 L409.5,213.7 L410.0,219.8 L410.5,214.1 L411.0,220.1 L411.5,215.0 L412.0,220.1 L412.5,220.9 L413.0,219.5 L413.5,215.0 L414.0,221.5 L414.5,217.2 L415.0,220.2 L415.5,218.2 L416.0,220.0 L416.5,220.2 L417.0,218.6 L417.5,208.7 L418.0,215.9 L418.5,209.6 L419.0,209.8 L419.5,208.6 L420.0,205.5 L420.5,203.8 L421.0,203.4 L421.5,203.3 L422.0,205.2 L422.5,205.0 L423.0,207.4 L423.5,209.5 L424.0,212.8 L424.5,215.4 L425.0,218.0 L425.5,212.8 L426.0,220.2 L426.5,220.0 L427.0,220.0 L427.5,218.8 L428.0,220.8 L428.5,219.6 L429.0,219.9 L429.5,217.4 L430.0,221.3 L430.5,219.5 L431.0,220.5 L431.5,218.7 L432.0,220.9 L432.5,217.0 L433.0,219.7 L433.5,218.9 L434.0,217.6 L434.5,212.5 L435.0,214.0 L435.5,212.6 L436.0,211.7 L436.5,211.7 L437.0,212.6 L437.5,211.8 L438.0,212.1 L438.5,209.4 L439.0,214.6 L439.5,215.2 L440.0,216.8 L440.5,218.6 L441.0,219.1 L441.5,218.7 L442.0,220.9 L442.5,215.1 L443.0,219.5 L443.5,217.1 L444.0,221.4 L444.5,210.1 L445.0,220.0 L445.5,213.4 L446.0,220.9 L446.5,213.5 L447.0,220.7 L447.5,215.0 L448.0,220.2 L448.5,215.4 L449.0,221.4 L449.5,219.7 L450.0,218.1 L450.5,209.2 L451.0,214.2 L451.5,213.6 L452.0,212.6 L452.5,210.1 L453.0,214.7 L453.5,215.0 L454.0,219.0 L454.5,218.8 L455.0,220.8 L455.5,210.7 L456.0,221.0 L456.5,208.6 L457.0,219.6 L457.5,214.7 L458.0,220.5 L458.5,208.1 L459.0,220.2 L459.5,211.4 L460.0,220.1 L460.5,208.0 L461.0,219.9 L461.5,221.1 L462.0,221.0 L462.5,213.0 L463.0,217.3 L463.5,212.3 L464.0,204.7 L464.5,189.2 L465.0,175.7 L465.5,163.3 L466.0,150.4 L466.5,137.1 L467.0,124.4 L467.5,114.6 L468.0,103.9 L468.5,88.8 L469.0,68.3 L469.5,68.1 L470.0,68.9 L470.5,80.0 L471.0,115.1 L471.5,131.2 L472.0,141.6 L472.5,150.1 L473.0,159.7 L473.5,168.3 L474.0,178.5 L474.5,188.1 L475.0,195.5 L475.5,199.1 L476.0,201.5 L476.5,205.2 L477.0,207.2 L477.5,209.0 L478.0,211.7 L478.5,213.1 L479.0,219.6 L479.5,215.7 L480.0,220.2 L480.5,216.9 L481.0,221.2 L481.5,220.5 L482.0,220.3 L482.5,215.4 L483.0,221.4 L483.5,212.9 L484.0,221.5 L484.5,220.9 L485.0,220.1 L485.5,219.2 L486.0,220.8 L486.5,217.6 L487.0,220.1 L487.5,213.9 L488.0,219.9 L488.5,221.3 L489.0,219.8 L489.5,217.0 L490.0,220.3 L490.5,214.7 L491.0,219.8 L491.5,211.9 L492.0,220.2 L492.5,217.8 L493.0,219.6 L493.5,215.5 L494.0,219.7 L494.5,213.5 L495.0,221.4 L495.5,215.5 L496.0,221.0 L496.5,213.4 L497.0,220.7 L497.5,208.1 L498.0,221.0 L498.5,215.7 L499.0,221.1 L499.5,208.9 L500.0,219.8 L500.5,214.8 L501.0,221.4 L501.5,214.7 L502.0,221.1 L502.5,217.5 L503.0,220.0 L503.5,210.0 L504.0,205.9 L504.5,196.3 L505.0,178.5 L505.5,161.4 L506.0,143.6 L506.5,122.7 L507.0,102.8 L507.5,93.2 L508.0,82.0 L508.5,71.9 L509.0,67.4 L509.5,67.1 L510.0,67.9 L510.5,67.8 L511.0,66.5 L511.5,67.6 L512.0,66.9 L512.5,67.1 L513.0,71.4 L513.5,73.5 L514.0,77.4 L514.5,80.3 L515.0,75.8 L515.5,72.3 L516.0,73.0 L516.5,72.2 L517.0,75.2 L517.5,77.8 L518.0,85.7 L518.5,111.9 L519.0,127.4 L519.5,144.5 L520.0,166.4 L520.5,179.4 L521.0,186.9 L521.5,194.5 L522.0,202.4 L522.5,211.8 L523.0,213.5 L523.5,216.4 L524.0,219.4 L524.5,220.4 L525.0,221.2 L525.5,217.2 L526.0,220.9 L526.5,221.4 L527.0,219.9 L527.5,217.2 L528.0,219.8 L528.5,218.1 L529.0,220.9 L529.5,217.4 L530.0,220.2 L530.5,221.3 L531.0,219.9 L531.5,221.1 L532.0,219.8 L532.5,216.7 L533.0,221.2 L533.5,219.1 L534.0,220.5 L534.5,220.4 L535.0,221.0 L535.5,217.2 L536.0,220.9 L536.5,220.2 L537.0,220.9 L537.5,217.3 L538.0,221.2 L538.5,221.8 L539.0,221.8 L539.5,218.9 L540.0,220.3 L540.5,218.3 L541.0,220.4 L541.5,221.4 L542.0,220.1 L542.5,221.6 L543.0,221.5 L543.5,218.3 L544.0,221.3 L544.5,218.9 L545.0,220.6 L545.5,220.7 L546.0,219.9 L546.5,221.2 L547.0,220.9 L547.5,221.6 L548.0,221.4 L548.5,221.0 L549.0,220.6 L549.5,219.2 L550.0,219.9 L550.5,217.3 L551.0,220.1 L551.5,220.2 L552.0,220.0 L552.5,218.5 L553.0,221.0 L553.5,221.7 L554.0,221.3 L554.5,221.0 L555.0,220.1 L555.5,219.4 L556.0,220.2 L556.5,217.4 L557.0,220.1 L557.5,220.1 L558.0,221.0 L558.5,219.8 L559.0,221.2 L559.5,220.2 L560.0,221.3 L560.5,220.6 L561.0,220.1 L561.5,221.2 L562.0,220.0 L562.5,220.6 L563.0,221.1 L563.5,218.4 L564.0,220.1 L564.5,219.3 L565.0,221.0 L565.5,220.4 L566.0,220.9 L566.5,220.0 L567.0,220.7 L567.5,217.9 L568.0,221.4 L568.5,217.9 L569.0,221.3 L569.5,218.5 L570.0,221.3 L570.5,218.1 L571.0,221.3 L571.5,218.8 L572.0,220.8 L572.5,219.6 L573.0,221.6 L573.5,221.0 L574.0,220.2 L574.5,218.6 L575.0,221.5 L575.5,219.2 L576.0,220.9 L576.5,219.4 L577.0,220.5 L577.5,219.5 L578.0,221.5 L578.5,219.8 L579.0,221.0 L579.5,221.1 L580.0,220.7 L580.5,220.4 L581.0,220.7 L581.5,220.7 L582.0,220.0 L582.5,220.1 L583.0,220.2 L583.5,218.8 L584.0,221.6 L584.5,218.0 L585.0,220.1 L585.5,220.8 L586.0,220.7 L586.5,220.3 L587.0,220.4 L587.5,219.7 L588.0,221.5 L588.5,218.6 L589.0,220.9 L589.5,218.6 L590.0,220.4 L590.5,218.4 L591.0,220.2 L591.5,218.7 L592.0,220.2 L592.5,218.9 L593.0,221.4 L593.5,219.2 L594.0,220.1 L594.5,219.7 L595.0,220.7 L595.5,218.3 L596.0,220.5 L596.5,219.9 L597.0,219.2 L597.5,216.8 L598.0,214.8 L598.5,209.8 L599.0,208.1 L599.5,203.9 L600.0,201.5 L600.5,201.5 L601.0,201.1 L601.5,200.2 L602.0,199.3 L602.5,200.6 L603.0,203.0 L603.5,205.7 L604.0,208.9 L604.5,213.6 L605.0,214.3 L605.5,214.7 L606.0,220.0 L606.5,218.6 L607.0,221.5 L607.5,220.6 L608.0,220.3 L608.5,217.6 L609.0,220.4 L609.5,218.1 L610.0,221.7 L610.5,218.7 L611.0,220.0 L611.5,220.9 L612.0,220.8 L612.5,219.2 L613.0,221.3 L613.5,220.6 L614.0,221.7 L614.5,221.7 L615.0,220.2 L615.5,215.6 L616.0,221.1 L616.5,220.8 L617.0,220.8 L617.5,219.0 L618.0,221.4 L618.5,221.0 L619.0,220.6 L619.5,218.5 L620.0,221.0 L620.5,221.4 L621.0,220.2 L621.5,220.7 L622.0,220.5 L622.5,217.9 L623.0,220.4 L623.5,217.8 L624.0,220.3 L624.5,220.8 L625.0,221.7 L625.5,218.4 L626.0,220.0 L626.5,218.7 L627.0,219.9 L627.5,220.5 L628.0,220.5 L628.5,219.7 L629.0,220.0 L629.5,220.5 L630.0,220.4 L630.5,220.0 L631.0,220.6 L631.5,220.3 L632.0,221.0 L632.5,219.4 L633.0,221.1 L633.5,218.4 L634.0,220.8 L634.5,220.0 L635.0,221.4 L635.5,220.4 L636.0,220.9 L636.5,221.5 L637.0,220.8 L637.5,213.5 L638.0,221.7 L638.5,218.6 L639.0,221.0 L639.5,220.4 L640.0,221.2 L640.5,221.0 L641.0,220.5 L641.5,220.5 L642.0,220.2 L642.5,220.4 L643.0,220.6 L643.5,217.9 L644.0,220.5 L644.5,217.8 L645.0,220.6 L645.5,219.1 L646.0,221.3 L646.5,221.0 L647.0,221.0 L647.5,221.4 L648.0,220.1 L648.5,220.1 L649.0,219.9 L649.5,219.5 L650.0,221.4 L650.5,218.7 L651.0,221.8 L651.5,217.1 L652.0,219.9 L652.5,221.6 L653.0,220.1 L653.5,220.3 L654.0,220.6 L654.5,221.3 L655.0,220.2 L655.5,219.7 L656.0,220.6 L656.5,218.6 L657.0,220.0 L657.5,218.4 L658.0,221.3 L658.5,219.5 L659.0,220.9 L659.5,218.9 L660.0,220.5 L660.5,218.4 L661.0,221.4 L661.5,219.7 L662.0,220.4 L662.5,221.4 L663.0,221.3 L663.5,220.8 L664.0,220.4 L664.5,218.8 L665.0,220.2 L665.5,219.0 L666.0,221.0 L666.5,220.3 L667.0,219.8 L667.5,220.6 L668.0,220.5 L668.5,218.8 L669.0,220.3 L669.5,220.7 L670.0,221.8 L670.5,219.1 L671.0,221.6 L671.5,218.9 L672.0,220.4 L672.5,221.1 L673.0,219.9 L673.5,220.7 L674.0,220.5 L674.5,217.9 L675.0,220.0 L675.5,221.7 L676.0,221.7 L676.5,218.9 L677.0,220.0 L677.5,219.8 L678.0,220.0 L678.5,220.6 L679.0,220.5 L679.5,219.1 L680.0,220.9 L680.5,221.2 L681.0,220.4 L681.5,221.4 L682.0,221.3 L682.5,219.8 L683.0,220.5 L683.5,221.6 L683.5,226.0 Z" fill="#fa0000" stroke="#fa0000" stroke-width="0.35"/>
<line x1="510.2" y1="23.0" x2="510.2" y2="33.0" stroke="#f0a0aa" stroke-width="1.4"/>
<line x1="510.3" y1="32.0" x2="510.3" y2="47.5" stroke="#dc3444" stroke-width="2.8"/>
<line x1="469.8" y1="73.0" x2="469.8" y2="100.0" stroke="#8aa8b0" stroke-width="0.7"/>
<line x1="513.9" y1="78.0" x2="513.9" y2="112.0" stroke="#f4a0a8" stroke-width="0.6"/>
<line x1="510.3" y1="36.0" x2="510.3" y2="45.0" stroke="#e8a0a8" stroke-width="0.6"/>
<polyline points="352.0,226.0 372.0,226.0 389.6,222.7 407.8,212.0 420.7,205.2 432.0,204.3 457.0,204.3 460.0,205.0 475.0,205.0 476.5,211.3 503.0,211.3 504.0,209.5 519.6,209.5 522.0,214.3 600.0,215.0 683.0,216.0" fill="none" stroke="#5ab2ec" stroke-width="1.15"/>
<polyline points="352.0,226.0 372.0,226.0 389.6,222.7 407.8,212.0 420.7,205.2 432.0,204.3 457.0,204.3 460.0,205.0 475.0,205.0 476.5,211.3 503.0,211.3 504.0,209.5 519.6,209.5 522.0,214.3 600.0,215.0 683.0,216.0" fill="none" stroke="#3a44b8" stroke-width="1.15" clip-path="url(#cb)"/>
<text x="372.7" y="221.6" class="pl" style="font-size:6.6px" textLength="5.3" lengthAdjust="spacingAndGlyphs">Ca</text>
<text x="384.1" y="168.3" class="big" style="font-size:10.3px" textLength="5.7" lengthAdjust="spacingAndGlyphs">O</text>
<text x="420.0" y="201.4" class="pl" style="font-size:6.6px" textLength="6.6" lengthAdjust="spacingAndGlyphs">Na</text>
<text x="433.3" y="212.8" class="pl" style="font-size:6.6px" textLength="8.2" lengthAdjust="spacingAndGlyphs">Mg</text>
<text x="467.8" y="62.2" class="big" style="font-size:10.3px" textLength="5.7" lengthAdjust="spacingAndGlyphs">Si</text>
<text x="505.4" y="61.9" class="big" style="font-size:10.3px" textLength="9.1" lengthAdjust="spacingAndGlyphs">Pb</text>
<text x="546.0" y="213.9" class="pl" style="font-size:6.6px" textLength="5.7" lengthAdjust="spacingAndGlyphs">Ac</text>
<text x="555.6" y="217.5" class="pl" style="font-size:6.6px" textLength="5.9" lengthAdjust="spacingAndGlyphs">Ac</text>
<text x="599.1" y="199.8" class="pl" style="font-size:6.6px" textLength="6.0" lengthAdjust="spacingAndGlyphs">Ca</text>
<text x="620.9" y="213.7" class="pl" style="font-size:6.6px" textLength="5.9" lengthAdjust="spacingAndGlyphs">Ca</text>
<rect x="559.5" y="44.6" width="37.1" height="122.5" fill="#c9dfca"/>
<rect x="633.9" y="44.6" width="37.2" height="122.5" fill="#c9dfca"/>
<text x="534.3" y="43.3" class="th" textLength="25.3" lengthAdjust="spacingAndGlyphs">Element</text>
<text x="576.0" y="43.3" class="th" textLength="16.6" lengthAdjust="spacingAndGlyphs">Wt %</text>
<text x="606.0" y="43.3" class="th" textLength="30.0" lengthAdjust="spacingAndGlyphs">Atomic %</text>
<text x="646.7" y="43.3" class="th" textLength="23.9" lengthAdjust="spacingAndGlyphs">Error %</text>
<text x="522.2" y="51.8" class="td" textLength="11.64" lengthAdjust="spacingAndGlyphs">O&#8194;K</text>
<text x="596.4" y="56.7" class="tv" text-anchor="end" textLength="14.81" lengthAdjust="spacingAndGlyphs">29.14</text>
<text x="633.7" y="56.7" class="tv" text-anchor="end" textLength="14.81" lengthAdjust="spacingAndGlyphs">66.50</text>
<text x="670.8" y="56.7" class="tv" text-anchor="end" textLength="14.81" lengthAdjust="spacingAndGlyphs">19.23</text>
<text x="522.2" y="69.4" class="td" textLength="13.30" lengthAdjust="spacingAndGlyphs">Na K</text>
<text x="596.4" y="74.5" class="tv" text-anchor="end" textLength="11.52" lengthAdjust="spacingAndGlyphs">1.19</text>
<text x="633.7" y="74.5" class="tv" text-anchor="end" textLength="11.52" lengthAdjust="spacingAndGlyphs">1.88</text>
<text x="670.8" y="74.5" class="tv" text-anchor="end" textLength="14.81" lengthAdjust="spacingAndGlyphs">84.24</text>
<text x="522.2" y="87.0" class="td" textLength="13.97" lengthAdjust="spacingAndGlyphs">Mg K</text>
<text x="596.4" y="92.2" class="tv" text-anchor="end" textLength="11.52" lengthAdjust="spacingAndGlyphs">0.00</text>
<text x="633.7" y="92.2" class="tv" text-anchor="end" textLength="11.52" lengthAdjust="spacingAndGlyphs">0.00</text>
<text x="670.8" y="92.2" class="tv" text-anchor="end" textLength="14.81" lengthAdjust="spacingAndGlyphs">99.99</text>
<text x="522.2" y="104.6" class="td" textLength="10.98" lengthAdjust="spacingAndGlyphs">Si K</text>
<text x="596.4" y="110.0" class="tv" text-anchor="end" textLength="14.81" lengthAdjust="spacingAndGlyphs">15.96</text>
<text x="633.7" y="110.0" class="tv" text-anchor="end" textLength="14.81" lengthAdjust="spacingAndGlyphs">20.74</text>
<text x="670.8" y="110.0" class="tv" text-anchor="end" textLength="14.38" lengthAdjust="spacingAndGlyphs">11.28</text>
<text x="522.2" y="122.2" class="td" textLength="13.30" lengthAdjust="spacingAndGlyphs">Ca K</text>
<text x="596.4" y="127.8" class="tv" text-anchor="end" textLength="11.52" lengthAdjust="spacingAndGlyphs">2.08</text>
<text x="633.7" y="127.8" class="tv" text-anchor="end" textLength="11.52" lengthAdjust="spacingAndGlyphs">1.90</text>
<text x="670.8" y="127.8" class="tv" text-anchor="end" textLength="14.81" lengthAdjust="spacingAndGlyphs">64.21</text>
<text x="522.2" y="139.8" class="td" textLength="12.31" lengthAdjust="spacingAndGlyphs">Pb L</text>
<text x="596.4" y="145.6" class="tv" text-anchor="end" textLength="14.81" lengthAdjust="spacingAndGlyphs">43.96</text>
<text x="633.7" y="145.6" class="tv" text-anchor="end" textLength="11.52" lengthAdjust="spacingAndGlyphs">7.75</text>
<text x="670.8" y="145.6" class="tv" text-anchor="end" textLength="14.81" lengthAdjust="spacingAndGlyphs">24.88</text>
<text x="522.2" y="157.4" class="td" textLength="11.97" lengthAdjust="spacingAndGlyphs">Ac L</text>
<text x="596.4" y="163.3" class="tv" text-anchor="end" textLength="11.52" lengthAdjust="spacingAndGlyphs">7.67</text>
<text x="633.7" y="163.3" class="tv" text-anchor="end" textLength="11.52" lengthAdjust="spacingAndGlyphs">1.23</text>
<text x="670.8" y="163.3" class="tv" text-anchor="end" textLength="14.81" lengthAdjust="spacingAndGlyphs">59.95</text>
<text x="372.3" y="43.7" class="pan" style="font-size:20px" textLength="20.6" lengthAdjust="spacingAndGlyphs">(b)</text>
<text x="510.7" y="255.7" class="pan" style="font-size:14.6px" textLength="20.1" lengthAdjust="spacingAndGlyphs">keV</text>
</g>
</svg>
</body></html>
